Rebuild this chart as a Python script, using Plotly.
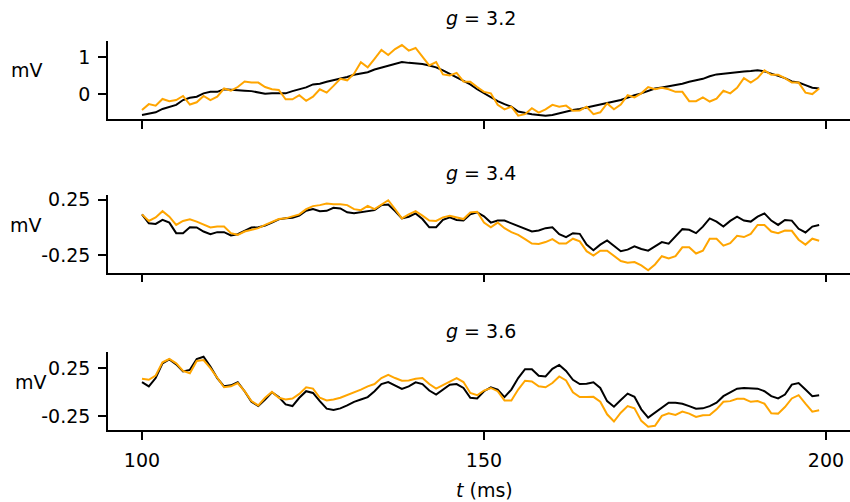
import plotly.graph_objects as go

# time axis (ms)
t = list(range(100, 200))

# g = 3.2
g32_black = [
    -0.55, -0.52, -0.48, -0.39, -0.34, -0.28, -0.15, -0.09, -0.06, 0.03,
    0.07, 0.07, 0.14, 0.12, 0.10, 0.10, 0.09, 0.05, 0.02, 0.03,
    0.02, 0.03, 0.09, 0.14, 0.19, 0.27, 0.29, 0.34, 0.38, 0.42,
    0.47, 0.53, 0.56, 0.60, 0.67, 0.72, 0.78, 0.82, 0.87, 0.85,
    0.84, 0.82, 0.78, 0.73, 0.65, 0.56, 0.47, 0.38, 0.27, 0.14,
    0.03, -0.06, -0.18, -0.26, -0.33, -0.46, -0.50, -0.53, -0.55, -0.57,
    -0.55, -0.50, -0.46, -0.42, -0.39, -0.35, -0.33, -0.28, -0.23, -0.19,
    -0.15, -0.08, -0.02, 0.03, 0.09, 0.16, 0.19, 0.22, 0.27, 0.29,
    0.34, 0.38, 0.42, 0.49, 0.54, 0.56, 0.58, 0.62, 0.62, 0.63,
    0.65, 0.62, 0.56, 0.51, 0.44, 0.35, 0.32, 0.25, 0.18, 0.16,
]
g32_orange = [
    -0.42, -0.26, -0.30, -0.12, -0.18, -0.15, -0.04, -0.27, -0.21, -0.04,
    -0.15, -0.06, 0.16, 0.10, 0.20, 0.35, 0.32, 0.32, 0.20, 0.14,
    0.12, -0.13, -0.13, -0.02, -0.17, -0.06, 0.14, 0.05, 0.23, 0.42,
    0.38, 0.56, 0.87, 0.73, 0.96, 1.20, 1.06, 1.22, 1.33, 1.18,
    1.25, 1.00, 0.78, 0.87, 0.54, 0.51, 0.58, 0.35, 0.34, 0.20,
    0.07, 0.03, -0.28, -0.40, -0.33, -0.57, -0.53, -0.37, -0.49, -0.40,
    -0.28, -0.33, -0.30, -0.44, -0.43, -0.33, -0.53, -0.48, -0.24, -0.40,
    -0.27, -0.02, -0.08, 0.03, 0.20, 0.14, 0.18, 0.14, 0.07, 0.07,
    -0.18, -0.18, -0.08, -0.19, -0.11, 0.10, 0.03, 0.18, 0.44, 0.32,
    0.44, 0.65, 0.53, 0.53, 0.44, 0.32, 0.32, 0.05, 0.01, 0.16,
]

# g = 3.4
g34_black = [
    0.117, 0.037, 0.031, 0.067, 0.043, -0.052, -0.052, 0.001, -0.001, -0.037,
    -0.061, -0.043, -0.043, -0.072, -0.061, -0.028, -0.001, 0.001, 0.016, 0.043,
    0.072, 0.081, 0.087, 0.105, 0.149, 0.164, 0.146, 0.149, 0.176, 0.170,
    0.135, 0.126, 0.135, 0.146, 0.155, 0.200, 0.206, 0.146, 0.081, 0.096,
    0.126, 0.075, 0.001, 0.001, 0.067, 0.090, 0.067, 0.061, 0.117, 0.135,
    0.100, 0.043, 0.061, 0.061, 0.037, 0.007, -0.016, -0.037, -0.028, -0.007,
    0.001, -0.061, -0.087, -0.052, -0.058, -0.155, -0.206, -0.155, -0.117, -0.164,
    -0.214, -0.200, -0.170, -0.194, -0.209, -0.170, -0.132, -0.146, -0.081, -0.016,
    -0.022, -0.052, 0.007, 0.081, 0.052, 0.007, 0.058, 0.096, 0.061, 0.052,
    0.096, 0.126, 0.061, 0.022, 0.067, 0.061, -0.013, -0.046, 0.007, 0.022,
]
g34_orange = [
    0.117, 0.058, 0.090, 0.146, 0.096, 0.022, 0.058, 0.072, 0.052, 0.022,
    -0.001, 0.007, 0.007, -0.052, -0.067, -0.037, -0.022, -0.007, 0.022, 0.052,
    0.075, 0.081, 0.096, 0.117, 0.164, 0.191, 0.200, 0.214, 0.208, 0.208,
    0.200, 0.164, 0.155, 0.194, 0.164, 0.206, 0.244, 0.164, 0.081, 0.117,
    0.146, 0.105, 0.061, 0.058, 0.090, 0.105, 0.087, 0.075, 0.135, 0.140,
    0.043, 0.001, 0.043, -0.007, -0.043, -0.067, -0.105, -0.146, -0.149, -0.132,
    -0.105, -0.146, -0.146, -0.102, -0.126, -0.214, -0.253, -0.209, -0.209, -0.259,
    -0.303, -0.318, -0.312, -0.342, -0.386, -0.333, -0.259, -0.280, -0.259, -0.179,
    -0.179, -0.235, -0.209, -0.102, -0.102, -0.164, -0.141, -0.075, -0.087, -0.058,
    0.022, 0.022, -0.037, -0.052, -0.028, -0.031, -0.111, -0.155, -0.102, -0.120,
]

# g = 3.6
g36_black = [
    0.105, 0.060, 0.147, 0.302, 0.343, 0.291, 0.216, 0.233, 0.347, 0.371,
    0.267, 0.147, 0.060, 0.071, 0.102, 0.009, -0.102, -0.147, -0.078, -0.002,
    -0.053, -0.129, -0.147, -0.060, 0.009, -0.009, -0.095, -0.174, -0.188, -0.171,
    -0.140, -0.102, -0.078, -0.053, 0.009, 0.084, 0.105, 0.071, 0.033, 0.060,
    0.102, 0.084, 0.016, -0.026, 0.026, 0.078, 0.084, 0.043, -0.060, -0.067,
    0.009, 0.050, 0.026, -0.053, 0.026, 0.147, 0.240, 0.240, 0.171, 0.164,
    0.243, 0.284, 0.222, 0.129, 0.084, 0.088, 0.102, 0.043, -0.095, -0.153,
    -0.084, -0.016, -0.050, -0.181, -0.267, -0.216, -0.157, -0.112, -0.112, -0.122,
    -0.147, -0.174, -0.171, -0.147, -0.112, -0.043, -0.002, 0.036, 0.043, 0.043,
    0.036, 0.009, -0.043, -0.067, -0.026, 0.078, 0.095, 0.026, -0.043, -0.033,
]
g36_orange = [
    0.140, 0.129, 0.174, 0.312, 0.347, 0.302, 0.222, 0.198, 0.326, 0.336,
    0.250, 0.147, 0.050, 0.060, 0.095, 0.009, -0.095, -0.140, -0.060, 0.002,
    -0.060, -0.078, -0.067, -0.019, 0.050, 0.036, -0.060, -0.088, -0.078, -0.060,
    -0.033, 0.002, 0.026, 0.060, 0.084, 0.147, 0.181, 0.147, 0.119, 0.122,
    0.140, 0.147, 0.084, 0.036, 0.071, 0.112, 0.147, 0.105, -0.009, -0.033,
    0.016, 0.043, 0.009, -0.088, -0.088, 0.026, 0.119, 0.112, 0.060, 0.050,
    0.095, 0.164, 0.122, -0.002, -0.053, -0.053, -0.050, -0.102, -0.233, -0.309,
    -0.216, -0.147, -0.171, -0.302, -0.364, -0.353, -0.250, -0.222, -0.240, -0.205,
    -0.226, -0.260, -0.243, -0.240, -0.181, -0.102, -0.095, -0.071, -0.071, -0.102,
    -0.095, -0.122, -0.222, -0.226, -0.157, -0.067, -0.033, -0.122, -0.205, -0.191,
]

g_values = ["3.2", "3.4", "3.6"]
x_ticks = [100, 150, 200]
y_ticks = [[0, 1], [-0.25, 0.25], [-0.25, 0.25]]
y_ticktext = [["0", "1"], ["-0.25", "0.25"], ["-0.25", "0.25"]]

W, H = 850, 502
FONT = "DejaVu Sans"
FS = 19

# (black, orange, y range, (top px, bottom px) of the axes box, title offset px)
panels = [
    (g32_black, g32_orange, [-0.663, 1.443], (34.3, 113.7), 23),
    (g34_black, g34_orange, [-0.406, 0.288], (191.0, 269.3), 23),
    (g36_black, g36_orange, [-0.398, 0.419], (350.0, 429.0), 21),
]

fig = go.Figure()
annotations = []
x_left_px = 108
for i, (blk, org, yr, (top_px, bot_px), toff) in enumerate(panels):
    n = "" if i == 0 else str(i + 1)
    xa, ya = "x" + n, "y" + n
    fig.add_trace(go.Scatter(x=t, y=blk, mode="lines", xaxis=xa, yaxis=ya,
                             line=dict(color="black", width=2), showlegend=False))
    fig.add_trace(go.Scatter(x=t, y=org, mode="lines", xaxis=xa, yaxis=ya,
                             line=dict(color="orange", width=2), showlegend=False))
    dom = [1 - bot_px / H, 1 - top_px / H]
    axis_common = dict(showline=True, linecolor="black", linewidth=1.6,
                       ticks="outside", ticklen=8, tickwidth=1.6, tickcolor="black",
                       showgrid=False, zeroline=False,
                       tickfont=dict(family=FONT, size=FS, color="black"))
    fig.update_layout(**{
        ("xaxis" + n): dict(domain=[x_left_px / W, 1], range=[95.03, 203.51],
                            anchor=ya, tickvals=x_ticks,
                            showticklabels=(i == 2), ticklabelstandoff=4,
                            **axis_common),
        ("yaxis" + n): dict(domain=dom, range=yr, anchor=xa,
                            tickvals=y_ticks[i], ticktext=y_ticktext[i],
                            ticklabelstandoff=4,
                            **axis_common),
    })
    # panel title
    annotations.append(dict(text="<i>g</i> = " + g_values[i], xref="paper", yref="paper",
                            x=481 / W, y=1 - (top_px - toff) / H, xanchor="center",
                            yanchor="middle", showarrow=False,
                            font=dict(family=FONT, size=FS, color="black")))

# y-axis unit labels
for cx, cy in [(27, 63.5), (26, 221), (31, 380)]:
    annotations.append(dict(text="mV", xref="paper", yref="paper",
                            x=cx / W, y=1 - cy / H, xanchor="center", yanchor="middle",
                            showarrow=False, font=dict(family=FONT, size=FS, color="black")))

# x-axis title
annotations.append(dict(text="<i>t</i> (ms)", xref="paper", yref="paper",
                        x=484 / W, y=1 - 489.5 / H, xanchor="center", yanchor="middle",
                        showarrow=False, font=dict(family=FONT, size=FS, color="black")))

fig.update_layout(width=W, height=H, margin=dict(l=0, r=0, t=0, b=0),
                  plot_bgcolor="white", paper_bgcolor="white",
                  annotations=annotations, showlegend=False)

fig.write_html("out.html")
